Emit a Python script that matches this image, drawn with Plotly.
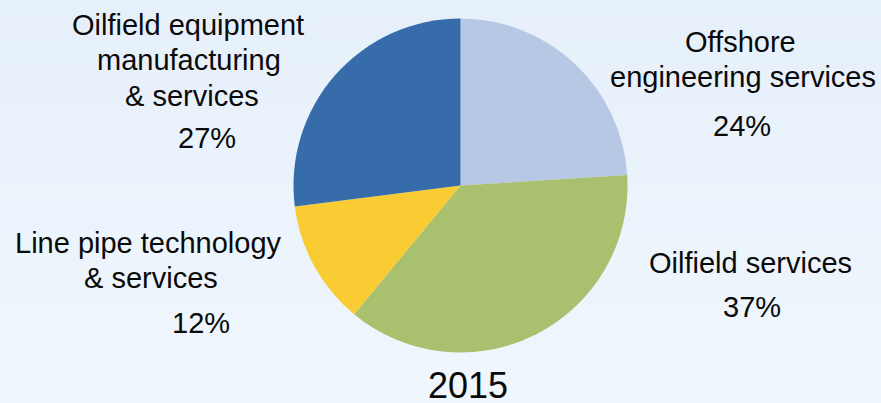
import plotly.graph_objects as go

# Segment revenue split, 2015
segments = [
    "Offshore\nengineering services",
    "Oilfield services",
    "Line pipe technology\n& services",
    "Oilfield equipment\nmanufacturing\n& services",
]
shares = [24, 37, 12, 27]
year_label = "2015"

colors = ["#B6C8E3", "#A9C06F", "#F8CC32", "#376CAA"]

W, H = 881, 403
FONT = "Liberation Sans, Arial, sans-serif"
FS = 29

# Label placement in pixels: per-line (center x, baseline y), then the percent line
label_layout = [
    {"lines": [(740, 52), (743, 87)], "pct": (742, 136)},
    {"lines": [(750, 273)], "pct": (752, 317)},
    {"lines": [(148, 253), (151, 288)], "pct": (201, 333)},
    {"lines": [(188, 35), (189, 70), (192, 106)], "pct": (207, 148)},
]

# Pie disc: center and radius in pixels
cx, cy, r = 460.5, 185.5, 167

fig = go.Figure()
fig.add_trace(go.Pie(
    labels=[s.replace("\n", " ") for s in segments],
    values=shares,
    sort=False,
    direction="clockwise",
    rotation=0,
    marker=dict(colors=colors, line=dict(width=0)),
    textinfo="none",
    hoverinfo="label+percent",
    showlegend=False,
    domain=dict(x=[(cx - r) / W, (cx + r) / W],
                y=[1 - (cy + r) / H, 1 - (cy - r) / H]),
))


def px_ann(text, x, baseline, size=FS):
    # place a single text line centred on x with its baseline at the given pixel row
    mid = baseline - 0.35 * size
    return dict(text=text, x=x / W, y=1 - mid / H, xref="paper", yref="paper",
                xanchor="center", yanchor="middle", showarrow=False,
                font=dict(family=FONT, size=size, color="#0A0A0A"))


annotations = []
for seg, val, pos in zip(segments, shares, label_layout):
    for line, (lx, ly) in zip(seg.split("\n"), pos["lines"]):
        annotations.append(px_ann(line, lx, ly))
    annotations.append(px_ann(f"{val}%", *pos["pct"]))
annotations.append(px_ann(year_label, 468, 398, size=36))

# soft vertical background gradient
top, bottom = (230, 240, 250), (240, 246, 253)
n_bands = 40
shapes = []
for i in range(n_bands):
    t = i / (n_bands - 1)
    c = tuple(round(a + (b - a) * t) for a, b in zip(top, bottom))
    shapes.append(dict(type="rect", xref="paper", yref="paper", layer="below",
                       x0=0, x1=1, y0=1 - (i + 1) / n_bands, y1=1 - i / n_bands,
                       fillcolor=f"rgb{c}", line=dict(width=0)))

fig.update_layout(
    width=W, height=H,
    margin=dict(l=0, r=0, t=0, b=0),
    paper_bgcolor="rgb(235,243,251)",
    plot_bgcolor="rgba(0,0,0,0)",
    annotations=annotations,
    shapes=shapes,
)

fig.write_html("out.html")
